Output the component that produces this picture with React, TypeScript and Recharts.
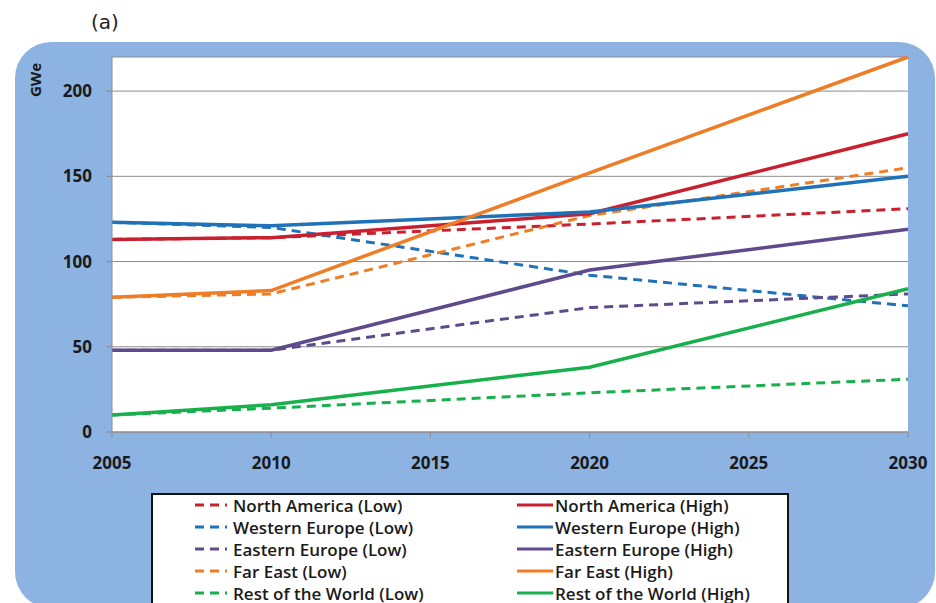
import React from 'react';
import { LineChart, Line, XAxis, YAxis, CartesianGrid } from 'recharts';

const years = [2005, 2010, 2020, 2030];
const xTicks = [2005, 2010, 2015, 2020, 2025, 2030];
const yTicks = [0, 50, 100, 150, 200];

const northAmericaLow = [113, 114, 122, 131];
const northAmericaHigh = [113, 114, 128, 175];
const westernEuropeLow = [123, 120, 92, 74];
const westernEuropeHigh = [123, 121, 129, 150];
const easternEuropeLow = [48, 48, 73, 81];
const easternEuropeHigh = [48, 48, 95, 119];
const farEastLow = [79, 81, 127, 155];
const farEastHigh = [79, 83, 152, 220];
const restOfWorldLow = [10, 14, 23, 31];
const restOfWorldHigh = [10, 16, 38, 84];

const RED = '#c8202e';
const BLUE = '#1f72b8';
const PURPLE = '#5f4a8b';
const ORANGE = '#ef7d26';
const GREEN = '#18b04c';

const lowSeries = [
  { key: 'naLow', name: 'North America (Low)', color: RED, values: northAmericaLow },
  { key: 'weLow', name: 'Western Europe (Low)', color: BLUE, values: westernEuropeLow },
  { key: 'eeLow', name: 'Eastern Europe (Low)', color: PURPLE, values: easternEuropeLow },
  { key: 'feLow', name: 'Far East (Low)', color: ORANGE, values: farEastLow },
  { key: 'rwLow', name: 'Rest of the World (Low)', color: GREEN, values: restOfWorldLow },
];

const highSeries = [
  { key: 'naHigh', name: 'North America (High)', color: RED, values: northAmericaHigh },
  { key: 'weHigh', name: 'Western Europe (High)', color: BLUE, values: westernEuropeHigh },
  { key: 'eeHigh', name: 'Eastern Europe (High)', color: PURPLE, values: easternEuropeHigh },
  { key: 'feHigh', name: 'Far East (High)', color: ORANGE, values: farEastHigh },
  { key: 'rwHigh', name: 'Rest of the World (High)', color: GREEN, values: restOfWorldHigh },
];

const data = years.map((year, i) => {
  const row: Record<string, number> = { year };
  [...lowSeries, ...highSeries].forEach((s) => {
    row[s.key] = s.values[i];
  });
  return row;
});

const FONT = '"Open Sans", "Liberation Sans", sans-serif';
const tickStyle = { fill: '#1a1a1a', fontSize: 17, fontWeight: 700, fontFamily: FONT };

function LegendRow({ name, color, dashed }: { name: string; color: string; dashed: boolean }) {
  return (
    <div style={{ display: 'flex', alignItems: 'center', height: 22, whiteSpace: 'nowrap' }}>
      <svg width={dashed ? 32 : 36} height={10} style={{ marginRight: dashed ? 6 : 2 }}>
        <line
          x1={0}
          y1={5}
          x2={dashed ? 32 : 36}
          y2={5}
          stroke={color}
          strokeWidth={3}
          strokeDasharray={dashed ? '9 6' : undefined}
        />
      </svg>
      <span>{name}</span>
    </div>
  );
}

export default function App() {
  return (
    <div style={{ position: 'absolute', left: 0, top: 0, width: 936, height: 603, overflow: 'hidden', background: '#fff' }}>
      <div
        style={{
          position: 'absolute',
          left: 15,
          top: 42,
          width: 920,
          height: 566,
          borderRadius: 36,
          background: '#8db3e2',
        }}
      />
      <div
        style={{
          position: 'absolute',
          left: 91,
          top: 10,
          fontFamily: '"DejaVu Sans", sans-serif',
          fontSize: 20,
          color: '#222',
        }}
      >
        (a)
      </div>
      <div
        style={{
          position: 'absolute',
          left: 35,
          top: 80,
          transform: 'translate(-50%, -50%) rotate(-90deg)',
          fontFamily: FONT,
          fontSize: 15,
          fontWeight: 700,
          color: '#1a1a1a',
        }}
      >
        GWe
      </div>
      <div style={{ position: 'absolute', left: 0, top: 0 }}>
        <LineChart width={936} height={603} data={data} margin={{ top: 57, right: 28, bottom: 141, left: 52 }}>
          <CartesianGrid vertical={false} stroke="#8c8c8c" fill="#ffffff" fillOpacity={1} />
          <XAxis
            dataKey="year"
            type="number"
            domain={[2005, 2030]}
            ticks={xTicks}
            height={30}
            stroke="#8c8c8c"
            tickSize={6}
            tickMargin={19}
            tick={tickStyle}
          />
          <YAxis
            type="number"
            domain={[0, 220]}
            ticks={yTicks}
            width={60}
            stroke="#8c8c8c"
            tickSize={6}
            tickMargin={14}
            tick={tickStyle}
          />
          {lowSeries.map((s) => (
            <Line
              key={s.key}
              dataKey={s.key}
              name={s.name}
              stroke={s.color}
              strokeWidth={3}
              strokeDasharray="9 6"
              dot={false}
              activeDot={false}
              type="linear"
              isAnimationActive={false}
            />
          ))}
          {highSeries.map((s) => (
            <Line
              key={s.key}
              dataKey={s.key}
              name={s.name}
              stroke={s.color}
              strokeWidth={3.5}
              dot={false}
              activeDot={false}
              type="linear"
              isAnimationActive={false}
            />
          ))}
        </LineChart>
      </div>
      <div
        style={{
          position: 'absolute',
          left: 151,
          top: 493,
          width: 638,
          height: 140,
          border: '2px solid #111',
          background: '#fff',
          boxSizing: 'border-box',
          fontFamily: FONT,
          fontSize: 17,
          fontWeight: 600,
          color: '#1a1a1a',
        }}
      >
        <div style={{ position: 'absolute', left: 42, top: -1 }}>
          {lowSeries.map((s) => (
            <LegendRow key={s.key} name={s.name} color={s.color} dashed />
          ))}
        </div>
        <div style={{ position: 'absolute', left: 364, top: -1 }}>
          {highSeries.map((s) => (
            <LegendRow key={s.key} name={s.name} color={s.color} dashed={false} />
          ))}
        </div>
      </div>
    </div>
  );
}
